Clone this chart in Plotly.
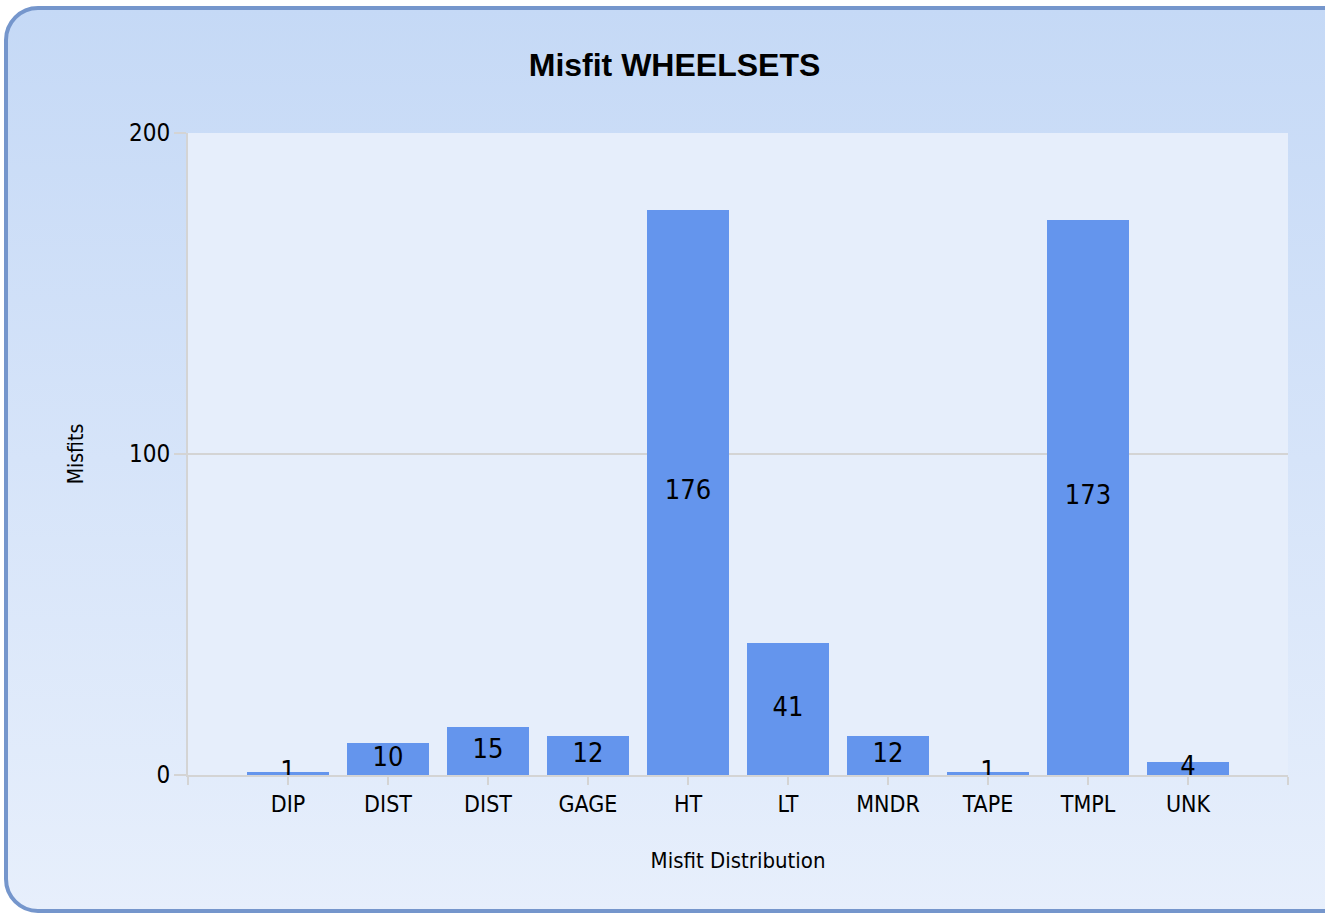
import base64
import plotly.graph_objects as go

categories = ["DIP", "DIST", "DIST", "GAGE", "HT", "LT", "MNDR", "TAPE", "TMPL", "UNK"]
misfits = [1, 10, 15, 12, 176, 41, 12, 1, 173, 4]
y_ticks = [0, 100, 200]

W, H = 1325, 915
L, R, T, B = 188, 37, 133, 140
PW, PH = W - L - R, H - T - B

FONT = "DejaVu Sans Condensed, DejaVu Sans, sans-serif"
BAR = "#6495ed"
GRID = "#d4d4d4"

positions = list(range(1, len(categories) + 1))

svg = f"""<svg xmlns='http://www.w3.org/2000/svg' width='{W}' height='{H}' viewBox='0 0 {W} {H}'>
<defs><linearGradient id='g' x1='0' y1='0' x2='0' y2='1'>
<stop offset='0' stop-color='#c5d9f6'/><stop offset='1' stop-color='#e7effc'/></linearGradient></defs>
<rect x='0' y='0' width='{W}' height='{H}' fill='#ffffff'/>
<rect x='6' y='8' width='1360' height='903' rx='32' ry='32' fill='url(#g)' stroke='#7596cc' stroke-width='4'/>
</svg>"""
src = "data:image/svg+xml;base64," + base64.b64encode(svg.encode()).decode()

fig = go.Figure()
fig.add_trace(go.Bar(
    x=positions, y=misfits, width=0.82,
    marker=dict(color=BAR, line=dict(width=0)),
    hoverinfo="skip", showlegend=False,
))
fig.add_trace(go.Scatter(
    x=positions, y=[v / 2 for v in misfits], mode="text",
    text=[str(v) for v in misfits],
    textfont=dict(family=FONT, size=27, color="#000000"),
    textposition="middle center", hoverinfo="skip", showlegend=False,
))

fig.update_layout(
    width=W, height=H,
    margin=dict(l=L, r=R, t=T, b=B, pad=0),
    paper_bgcolor="rgba(0,0,0,0)",
    plot_bgcolor="rgba(0,0,0,0)",
    font=dict(family=FONT, color="#000000"),
    bargap=0,
    images=[dict(
        source=src, xref="paper", yref="paper",
        x=-L / PW, y=1 + T / PH, sizex=W / PW, sizey=H / PH,
        xanchor="left", yanchor="top", sizing="stretch", layer="below",
    )],
    shapes=[dict(
        type="rect", xref="paper", yref="paper", x0=0, x1=1, y0=0, y1=1,
        fillcolor="#e6eefb", line=dict(width=0), layer="below",
    )],
    title=dict(
        text="<b>Misfit WHEELSETS</b>", x=(529 + 820) / 2 / W, xanchor="center",
        y=1 - 65 / H, yanchor="middle",
        font=dict(family="Liberation Sans, Arial, sans-serif", size=32, color="#000000"),
    ),
)

fig.update_xaxes(
    range=[0, len(categories) + 1],
    tickmode="array",
    tickvals=[0] + positions + [len(categories) + 1],
    ticktext=[""] + categories + [""],
    showgrid=False, zeroline=False,
    showline=True, linecolor=GRID, linewidth=2,
    ticks="outside", ticklen=8, tickwidth=2, tickcolor=GRID,
    tickfont=dict(family=FONT, size=23),
    ticklabelstandoff=-1,
    title=dict(text="Misfit Distribution", font=dict(family=FONT, size=22), standoff=37),
    fixedrange=True,
)
fig.update_yaxes(
    range=[0, 200],
    tickmode="array", tickvals=y_ticks, ticktext=[str(v) for v in y_ticks],
    showgrid=True, gridcolor=GRID, gridwidth=2, zeroline=False,
    showline=True, linecolor=GRID, linewidth=2,
    ticks="outside", ticklen=12, tickwidth=2, tickcolor=GRID,
    tickfont=dict(family=FONT, size=24),
    ticklabelstandoff=-1,
    title=dict(text="Misfits", font=dict(family=FONT, size=21), standoff=40),
    fixedrange=True,
)

fig.write_html("out.html", config={"displayModeBar": False},
               post_script="document.body.style.margin='0';document.body.style.overflow='hidden';")
